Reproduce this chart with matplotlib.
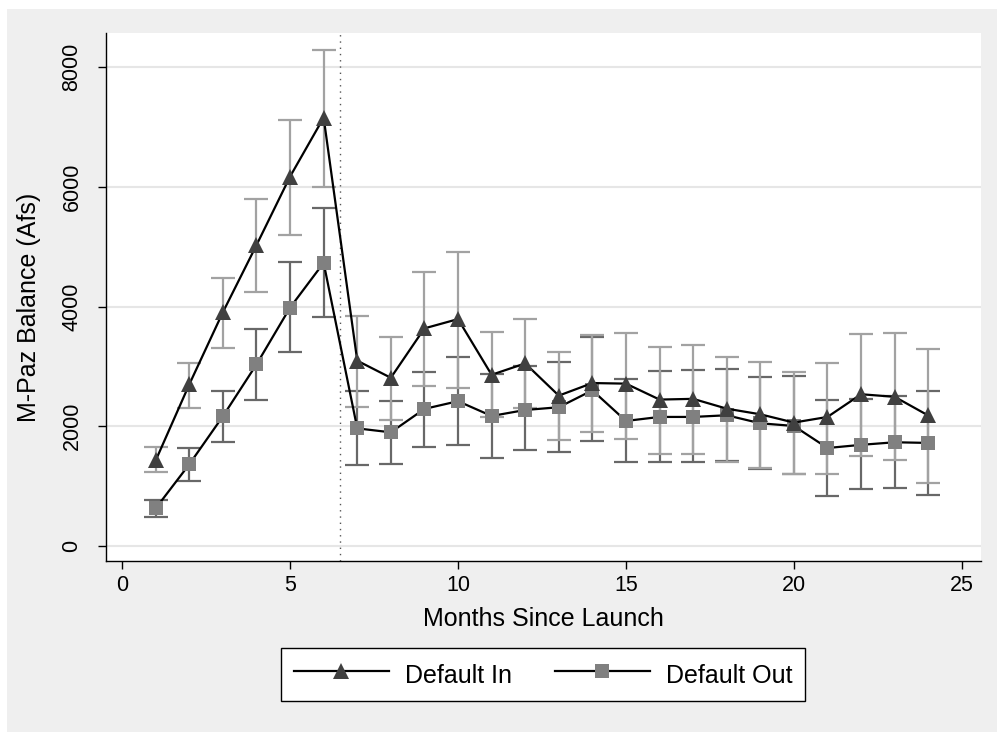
import matplotlib
matplotlib.use("Agg")
import matplotlib.pyplot as plt
from matplotlib.lines import Line2D
from matplotlib.patches import Rectangle
import numpy as np

plt.rcParams['font.family'] = ['Liberation Sans', 'DejaVu Sans']

# ---- data ----
months = list(range(1, 25))
in_mean = [1430, 2700, 3905, 5025, 6170, 7155, 3095, 2810, 3635, 3790, 2860, 3050,
           2512, 2722, 2712, 2446, 2458, 2294, 2200, 2062, 2156, 2535, 2492, 2180]
in_lo = [1230, 2298, 3313, 4239, 5194, 6000, 2324, 2106, 2670, 2642, 2160, 2300,
         1777, 1905, 1793, 1542, 1536, 1410, 1298, 1210, 1201, 1500, 1431, 1061]
in_hi = [1650, 3063, 4478, 5791, 7116, 8280, 3848, 3497, 4581, 4916, 3575, 3790,
         3246, 3525, 3564, 3324, 3363, 3156, 3075, 2905, 3062, 3545, 3553, 3285]
out_mean = [630, 1365, 2167, 3033, 3982, 4730, 1965, 1899, 2290, 2419, 2172, 2272,
            2318, 2600, 2089, 2156, 2156, 2184, 2050, 2005, 1637, 1690, 1733, 1722]
out_lo = [485, 1082, 1731, 2436, 3236, 3821, 1350, 1374, 1659, 1687, 1472, 1597,
          1570, 1749, 1397, 1397, 1397, 1425, 1290, 1205, 838, 950, 961, 856]
out_hi = [765, 1635, 2585, 3624, 4746, 5642, 2592, 2419, 2911, 3157, 2870, 3000,
          3078, 3492, 2782, 2922, 2933, 2955, 2829, 2840, 2441, 2460, 2510, 2597]
cutoff = 6.5
xticks = [0, 5, 10, 15, 20, 25]
yticks = [0, 2000, 4000, 6000, 8000]
series_names = ["Default In", "Default Out"]

W, H = 997, 732
fig = plt.figure(figsize=(W / 100, H / 100), dpi=100)
fig.patch.set_facecolor('white')
fig.patches.append(Rectangle((7 / W, 0), 1, 1 - 9 / H, transform=fig.transFigure,
                             facecolor='#efefef', edgecolor='none', zorder=-10))

L, R, T, B = 106, 981, 33, 561
ax = fig.add_axes([L / W, 1 - B / H, (R - L) / W, (B - T) / H])
ax.set_facecolor('white')

mi = np.array(in_mean); mo = np.array(out_mean)
ax.errorbar(months, mo, yerr=[mo - np.array(out_lo), np.array(out_hi) - mo], fmt='none',
            ecolor='#686868', elinewidth=1.6, capsize=8.5, capthick=1.6, zorder=2)
ax.errorbar(months, mi, yerr=[mi - np.array(in_lo), np.array(in_hi) - mi], fmt='none',
            ecolor='#a2a2a2', elinewidth=1.6, capsize=8.5, capthick=1.6, zorder=3)
ax.plot(months, out_mean, color='black', lw=1.6, marker='s', ms=9.5,
        mfc='#808080', mec='#808080', mew=0, zorder=4)
ax.plot(months, in_mean, color='black', lw=1.6, marker='^', ms=12,
        mfc='#404040', mec='#404040', mew=0, zorder=5)

ax.axvline(cutoff, color='#555555', lw=1.0, ls=(0, (1, 3.5)), zorder=1)

ax.set_xlim(-0.48, 25.57)
ax.set_ylim(-250, 8568)
ax.set_xticks(xticks)
ax.set_yticks(yticks)
ax.yaxis.grid(True, color='#e6e6e6', lw=1.5)
ax.set_axisbelow(True)
for s in ['top', 'right']:
    ax.spines[s].set_visible(False)
for s in ['left', 'bottom']:
    ax.spines[s].set_color('black')
    ax.spines[s].set_linewidth(1.0)

ax.tick_params(axis='both', direction='out', length=6, width=1, colors='black',
               labelsize=15.5, pad=4)
ax.tick_params(axis='y', labelrotation=90, pad=11)
for lab in ax.get_yticklabels():
    lab.set_va('center')

ax.set_xlabel('Months Since Launch', fontsize=18, labelpad=8)
ax.set_ylabel('M-Paz Balance (Afs)', fontsize=18)
ax.yaxis.set_label_coords(-0.074, 0.481)

handles = [
    Line2D([], [], color='black', lw=1.6, marker='^', ms=12, mfc='#404040', mec='#404040', mew=0),
    Line2D([], [], color='black', lw=1.6, marker='s', ms=9.5, mfc='#808080', mec='#808080', mew=0),
]
lx0, lx1, ly0, ly1 = 281, 805, 645, 704
leg = fig.legend(handles, series_names, loc='center', ncol=2, mode='expand',
                 bbox_to_anchor=(lx0 / W, 1 - ly1 / H, (lx1 - lx0) / W, (ly1 - ly0) / H),
                 bbox_transform=fig.transFigure, fontsize=18, frameon=True,
                 fancybox=False, framealpha=1, edgecolor='black', facecolor='white',
                 handlelength=3.8, handletextpad=0.65, columnspacing=1.7,
                 handleheight=1.4, borderpad=0.5, borderaxespad=0, numpoints=1)
leg.get_frame().set_linewidth(1.0)

fig.savefig('out.png', dpi=100, facecolor=fig.get_facecolor())
